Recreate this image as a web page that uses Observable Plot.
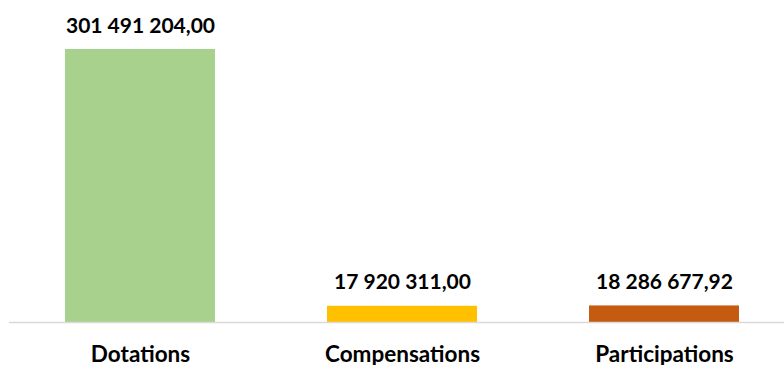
<!DOCTYPE html>
<html>
<head>
<meta charset="utf-8">
<script src="https://cdn.jsdelivr.net/npm/d3@7"></script>
<script src="https://cdn.jsdelivr.net/npm/@observablehq/plot@0.6"></script>
<style>
  html, body { margin: 0; padding: 0; background: #fff; }
  #chart svg { display: block; }
</style>
</head>
<body>
<div id="chart"></div>
<script>
const categories = ["Dotations", "Compensations", "Participations"];
const values = [301491204.00, 17920311.00, 18286677.92];
const valueLabels = ["301 491 204,00", "17 920 311,00", "18 286 677,92"];
const colors = ["#A9D18E", "#FFC000", "#C55A11"];

const data = categories.map((c, i) => ({category: c, value: values[i], label: valueLabels[i]}));

const chart = Plot.plot({
  width: 784,
  height: 365,
  marginLeft: 9,
  marginRight: 0,
  marginTop: 0,
  marginBottom: 0,
  style: {fontFamily: "Lato, sans-serif", background: "#fff"},
  x: {domain: categories, range: [9, 795], paddingInner: 0.4275, paddingOuter: 0.21375, axis: null},
  y: {domain: [0, 301491204], range: [322, 49], axis: null},
  color: {domain: categories, range: colors},
  marks: [
    Plot.barY(data, {x: "category", y: "value", fill: "category"}),
    Plot.ruleY([0], {stroke: "#d9d9d9", strokeWidth: 1.3}),
    Plot.text(data, {x: "category", y: "value", text: "label", lineAnchor: "bottom", dy: -17,
      fontSize: 21, fontWeight: "bold", fill: "#000"}),
    Plot.text(data, {x: "category", y: 0, text: "category", lineAnchor: "bottom", dy: 39,
      fontSize: 22.5, fontWeight: "bold", fill: "#000"})
  ]
});
document.getElementById("chart").appendChild(chart);
</script>
</body>
</html>
